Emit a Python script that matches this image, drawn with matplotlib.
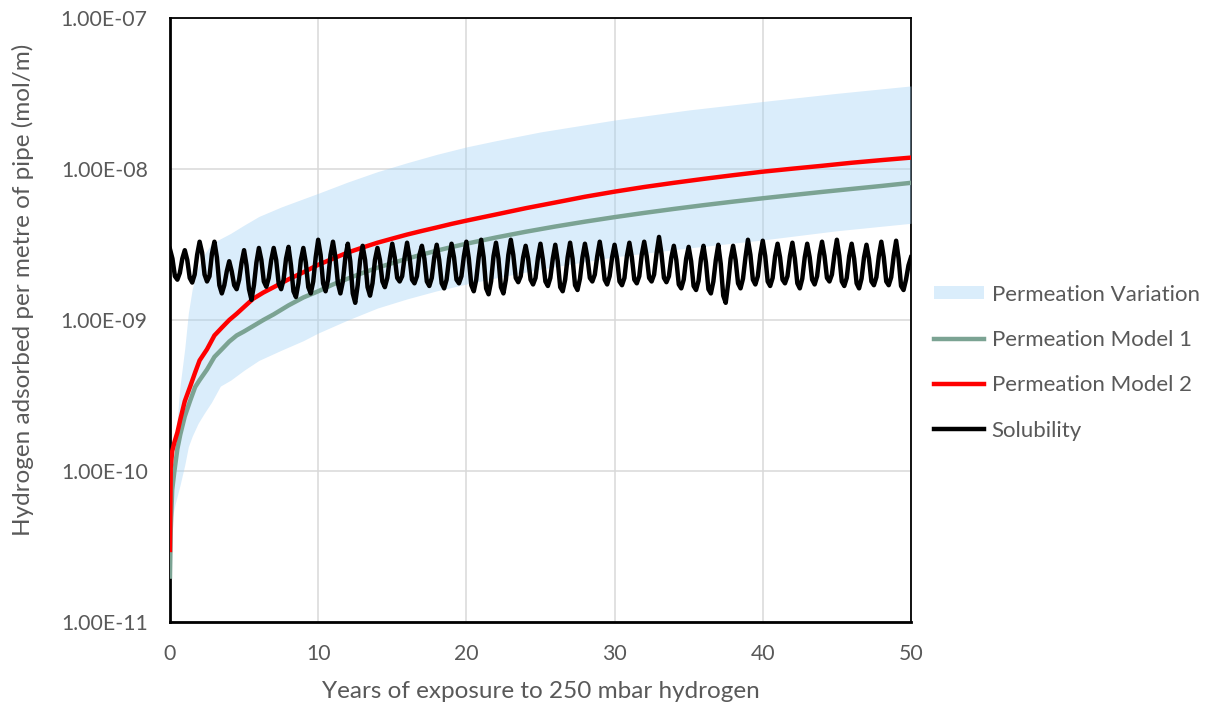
import numpy as np
import matplotlib
matplotlib.use("Agg")
import matplotlib.pyplot as plt
from matplotlib.ticker import FixedLocator, FuncFormatter
from matplotlib.patches import Patch
from matplotlib.lines import Line2D

plt.rcParams['font.family'] = ['Lato', 'DejaVu Sans']

# permeation band (min / max of the permeation models)
band_years = [0, 0.1, 0.34, 0.67, 1.0, 1.24, 1.5, 1.9, 2.3, 2.8,
              3.4, 4.1, 5, 6, 7.5, 9, 10, 12, 14, 16,
              18, 20, 22, 25, 30, 35, 40, 45, 50]
band_upper = [4.5e-11, 5.3e-11, 1.45e-10, 3.6e-10, 6.5e-10, 1.11e-9, 1.6e-9, 2.25e-9, 2.7e-9, 3.2e-9,
              3.45e-9, 3.75e-9, 4.25e-9, 4.85e-9, 5.6e-9, 6.35e-9, 6.9e-9, 8.2e-9, 9.6e-9, 1.1e-8,
              1.25e-8, 1.4e-8, 1.54e-8, 1.76e-8, 2.11e-8, 2.46e-8, 2.8e-8, 3.17e-8, 3.55e-8]
band_lower = [4.0e-11, 4.6e-11, 6.0e-11, 8.0e-11, 1.1e-10, 1.45e-10, 1.7e-10, 2.07e-10, 2.4e-10, 2.85e-10,
              3.65e-10, 4.0e-10, 4.65e-10, 5.4e-10, 6.3e-10, 7.3e-10, 8.2e-10, 1.0e-9, 1.2e-9, 1.38e-9,
              1.56e-9, 1.73e-9, 1.9e-9, 2.17e-9, 2.62e-9, 3.0e-9, 3.39e-9, 3.9e-9, 4.37e-9]

# permeation models
m_years = [0, 0.05, 0.15, 0.3, 0.5, 0.7, 1, 1.35, 1.7, 2,
           2.5, 3, 3.5, 4, 4.5, 5, 5.6, 6.3, 7, 8,
           9, 10, 11, 12, 13, 14, 15, 16, 17, 18,
           19, 20, 22, 24, 26, 28, 30, 32, 34, 36,
           38, 40, 42, 44, 46, 48, 50]
model1 = [2.0e-11, 4.0e-11, 7.5e-11, 1.0e-10, 1.4e-10, 1.75e-10, 2.3e-10, 2.9e-10, 3.6e-10, 4.0e-10,
          4.7e-10, 5.7e-10, 6.4e-10, 7.2e-10, 7.9e-10, 8.4e-10, 9.1e-10, 1.0e-9, 1.09e-9, 1.25e-9,
          1.41e-9, 1.55e-9, 1.72e-9, 1.88e-9, 2.05e-9, 2.22e-9, 2.38e-9, 2.55e-9, 2.71e-9, 2.88e-9,
          3.04e-9, 3.2e-9, 3.52e-9, 3.84e-9, 4.16e-9, 4.48e-9, 4.8e-9, 5.12e-9, 5.44e-9, 5.76e-9,
          6.08e-9, 6.4e-9, 6.72e-9, 7.05e-9, 7.38e-9, 7.72e-9, 8.1e-9]
model2 = [3.0e-11, 1.05e-10, 1.35e-10, 1.55e-10, 1.8e-10, 2.2e-10, 2.9e-10, 3.6e-10, 4.5e-10, 5.4e-10,
          6.4e-10, 7.9e-10, 8.9e-10, 1.0e-9, 1.1e-9, 1.22e-9, 1.38e-9, 1.52e-9, 1.65e-9, 1.86e-9,
          2.07e-9, 2.32e-9, 2.55e-9, 2.8e-9, 3.02e-9, 3.25e-9, 3.46e-9, 3.68e-9, 3.89e-9, 4.1e-9,
          4.33e-9, 4.55e-9, 5.0e-9, 5.5e-9, 6.0e-9, 6.55e-9, 7.08e-9, 7.6e-9, 8.1e-9, 8.6e-9,
          9.1e-9, 9.6e-9, 10.05e-9, 10.5e-9, 11.0e-9, 11.45e-9, 11.9e-9]

# solubility, six readings per year (units of 1e-9 mol/m)
solubility = [
    2.95, 2.55, 1.95, 1.85, 2.05, 2.55,
    2.90, 2.50, 1.90, 1.77, 2.00, 2.70,
    3.30, 2.80, 2.00, 1.80, 1.95, 2.75,
    3.30, 2.60, 1.70, 1.50, 1.70, 2.10,
    2.45, 2.10, 1.70, 1.60, 1.85, 2.40,
    2.90, 2.30, 1.60, 1.36, 1.70, 2.40,
    3.00, 2.50, 1.80, 1.66, 1.90, 2.50,
    3.00, 2.50, 1.75, 1.60, 1.85, 2.55,
    3.05, 2.30, 1.55, 1.42, 1.75, 2.50,
    3.00, 2.40, 1.65, 1.50, 1.80, 2.60,
    3.40, 2.70, 1.75, 1.55, 1.85, 2.70,
    3.30, 2.60, 1.75, 1.50, 1.80, 2.60,
    3.20, 2.45, 1.50, 1.30, 1.70, 2.50,
    3.10, 2.50, 1.65, 1.45, 1.75, 2.50,
    3.00, 2.50, 1.80, 1.65, 1.90, 2.55,
    3.20, 2.60, 1.90, 1.80, 1.95, 2.60,
    3.25, 2.60, 1.85, 1.75, 1.95, 2.70,
    3.10, 2.55, 1.80, 1.68, 1.90, 2.60,
    3.15, 2.50, 1.75, 1.62, 1.85, 2.55,
    3.20, 2.60, 1.85, 1.75, 1.95, 2.65,
    3.30, 2.55, 1.70, 1.55, 1.85, 2.60,
    3.40, 2.60, 1.62, 1.48, 1.80, 2.65,
    3.25, 2.55, 1.65, 1.50, 1.85, 2.70,
    3.40, 2.70, 1.90, 1.78, 1.95, 2.60,
    3.10, 2.55, 1.85, 1.72, 1.90, 2.60,
    3.20, 2.50, 1.80, 1.68, 1.90, 2.55,
    3.15, 2.45, 1.65, 1.55, 1.85, 2.60,
    3.25, 2.55, 1.70, 1.58, 1.88, 2.60,
    3.20, 2.60, 1.90, 1.80, 2.00, 2.65,
    3.30, 2.60, 1.85, 1.72, 1.95, 2.60,
    3.15, 2.55, 1.80, 1.70, 1.90, 2.65,
    3.25, 2.60, 1.85, 1.75, 1.95, 2.70,
    3.30, 2.65, 1.90, 1.80, 2.00, 2.75,
    3.55, 2.75, 1.90, 1.78, 1.95, 2.60,
    3.10, 2.50, 1.72, 1.62, 1.85, 2.55,
    3.05, 2.45, 1.68, 1.58, 1.82, 2.55,
    3.10, 2.40, 1.60, 1.50, 1.80, 2.50,
    3.15, 2.35, 1.45, 1.30, 1.75, 2.55,
    3.10, 2.50, 1.75, 1.62, 1.88, 2.60,
    3.40, 2.70, 1.85, 1.72, 1.95, 2.70,
    3.35, 2.65, 1.80, 1.68, 1.90, 2.65,
    3.20, 2.60, 1.85, 1.75, 1.95, 2.65,
    3.25, 2.55, 1.75, 1.62, 1.88, 2.60,
    3.20, 2.60, 1.85, 1.72, 1.95, 2.70,
    3.30, 2.65, 1.90, 1.80, 2.00, 2.70,
    3.40, 2.65, 1.80, 1.68, 1.90, 2.65,
    3.20, 2.55, 1.75, 1.62, 1.88, 2.60,
    3.15, 2.55, 1.80, 1.70, 1.92, 2.65,
    3.30, 2.60, 1.80, 1.70, 1.92, 2.65,
    3.35, 2.55, 1.68, 1.58, 1.85, 2.30,
    2.60,
]
sol_years = np.linspace(0, 50, len(solubility))
sol_values = np.array(solubility) * 1e-9

labels = ['Permeation Variation', 'Permeation Model 1', 'Permeation Model 2', 'Solubility']
y_ticks = [1e-11, 1e-10, 1e-9, 1e-8, 1e-7]
x_ticks = [0, 10, 20, 30, 40, 50]

txt_col = '#595959'
green = '#7BA393'
red = '#FF0000'
band_col = '#A3D2F5'
band_alpha = 0.4

fig = plt.figure(figsize=(12.08, 7.09), dpi=100)
ax = fig.add_axes([0.1407, 0.1227, 0.6134, 0.8519])

ax.fill_between(band_years, band_lower, band_upper, color=band_col, alpha=band_alpha,
                linewidth=0, zorder=3)
ax.plot(m_years, model1, color=green, lw=3.2, zorder=4)
ax.plot(m_years, model2, color=red, lw=3.2, zorder=5)
ax.plot(sol_years, sol_values, color='black', lw=3.2, zorder=6)

ax.set_yscale('log')
ax.set_ylim(1e-11, 1e-7)
ax.set_xlim(0, 50)
ax.yaxis.set_major_locator(FixedLocator(y_ticks))
ax.yaxis.set_minor_locator(FixedLocator([]))
ax.yaxis.set_major_formatter(FuncFormatter(lambda v, p: f"{v:.2E}"))
ax.xaxis.set_major_locator(FixedLocator(x_ticks))

ax.grid(True, color='#D9D9D9', lw=1.1, zorder=1)
ax.set_axisbelow(True)
ax.tick_params(length=0, labelsize=15.3, labelcolor=txt_col)
ax.tick_params(axis='x', pad=16)
ax.tick_params(axis='y', pad=16)
for s in ax.spines.values():
    s.set_color('black')
    s.set_linewidth(1.3)
ax.spines['left'].set_linewidth(2.0)
ax.spines['bottom'].set_linewidth(2.0)

fig.text(0.4475, 0.024, 'Years of exposure to 250 mbar hydrogen', ha='center', va='center',
         fontsize=17.5, color=txt_col)
fig.text(0.019, 0.591, 'Hydrogen adsorbed per metre of pipe (mol/m)', ha='center', va='center',
         rotation=90, fontsize=17.5, color=txt_col)

handles = [Patch(facecolor=band_col, alpha=band_alpha, edgecolor='none'),
           Line2D([], [], color=green, lw=3.2),
           Line2D([], [], color=red, lw=3.2),
           Line2D([], [], color='black', lw=3.2)]
fig.legend(handles, labels, loc='center left', bbox_to_anchor=(0.773, 0.4887), frameon=False,
           fontsize=16, labelcolor=txt_col, handlelength=2.25, handleheight=0.55,
           handletextpad=0.36, labelspacing=1.14, borderpad=0, borderaxespad=0)

fig.savefig('out.png', dpi=100)
